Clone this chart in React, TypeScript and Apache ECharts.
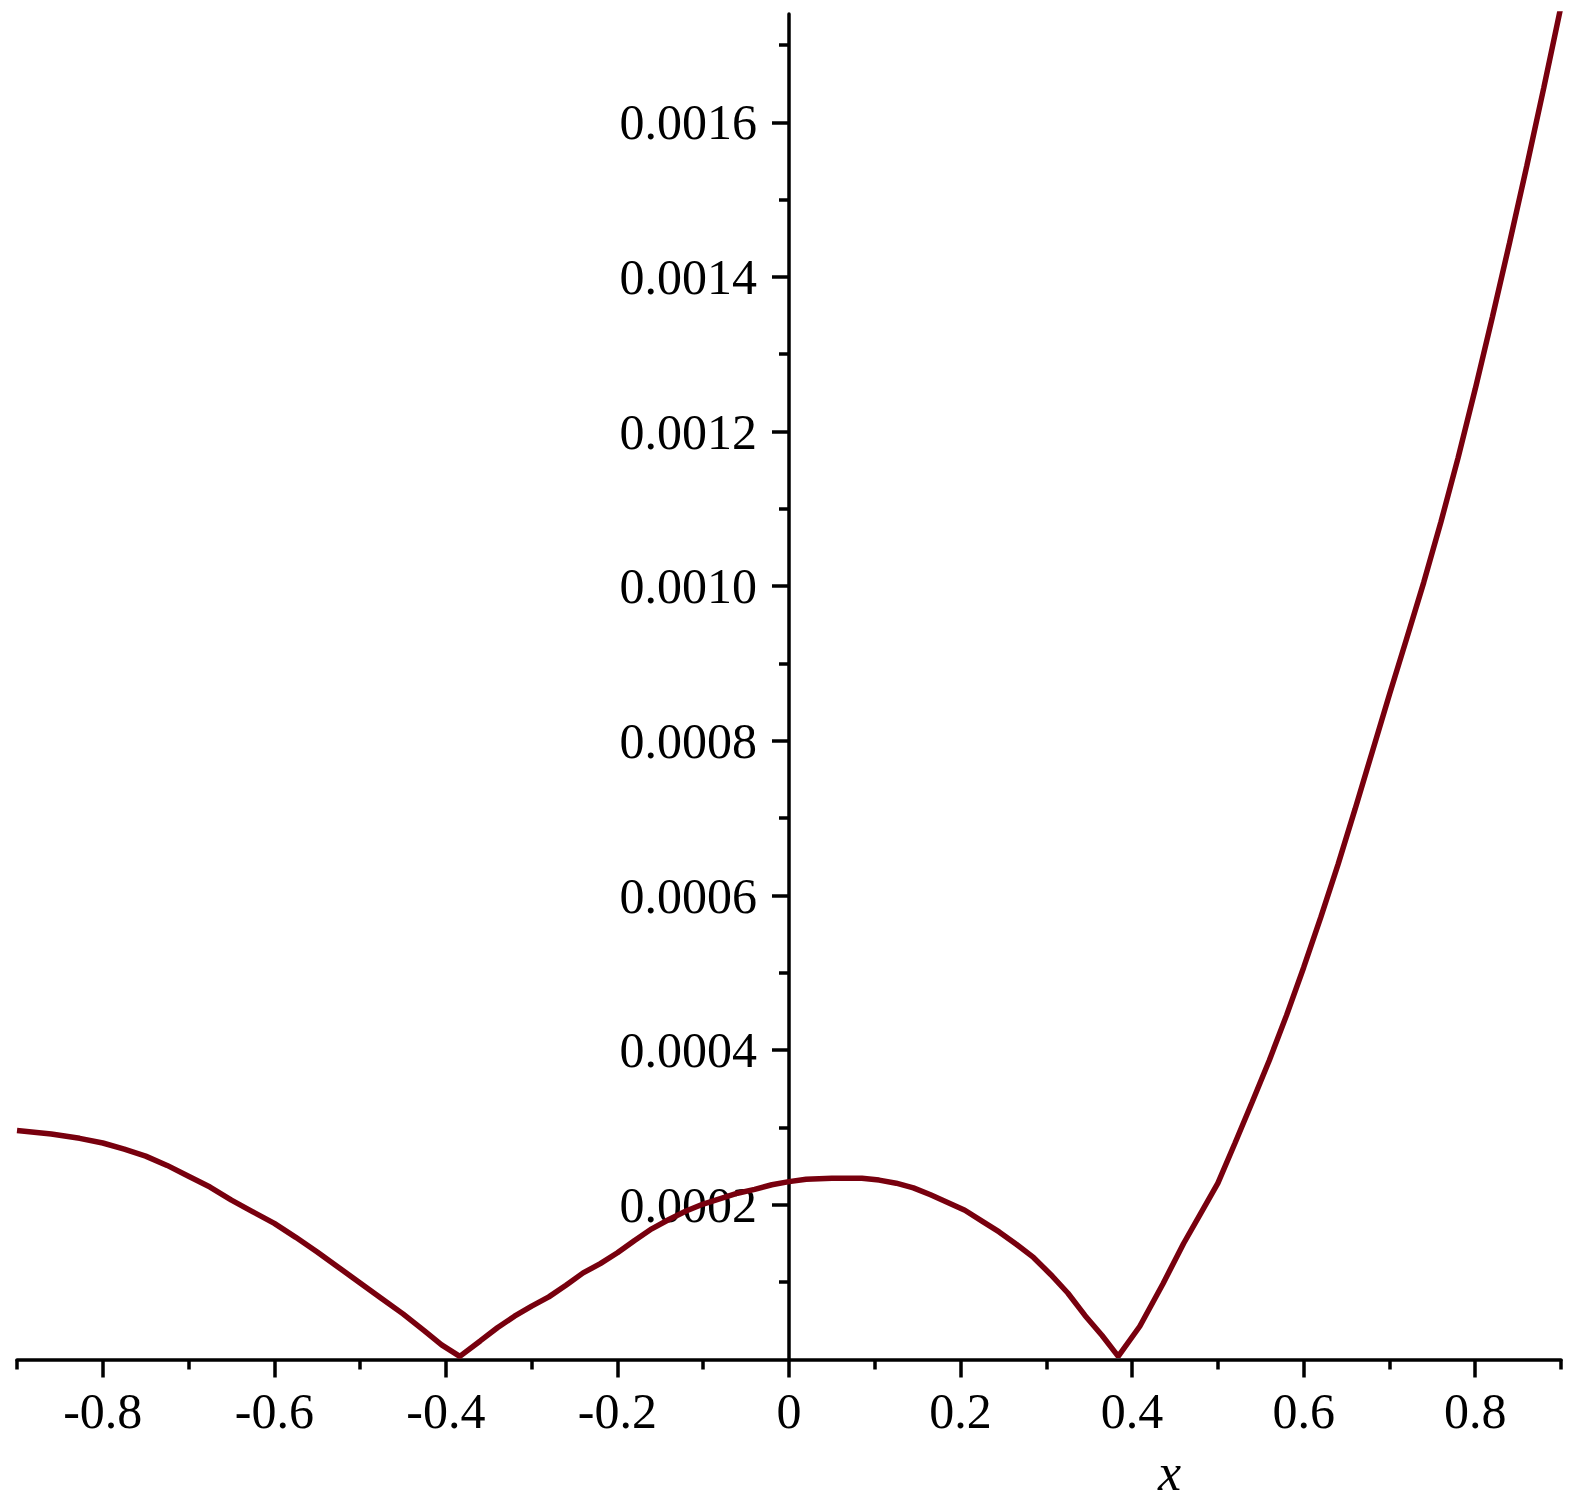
import React, { useEffect, useRef } from "react";
import * as echarts from "echarts";

// Curve samples
const xs = [
  -0.9, -0.86, -0.827, -0.8, -0.775, -0.75, -0.725, -0.7, -0.675, -0.65,
  -0.625, -0.6, -0.575, -0.55, -0.525, -0.5, -0.475, -0.45, -0.425, -0.405,
  -0.3838, -0.36, -0.34, -0.32, -0.3, -0.28, -0.26, -0.24, -0.22, -0.2,
  -0.18, -0.16, -0.14, -0.12, -0.1, -0.08, -0.06, -0.04, -0.02, 0,
  0.02, 0.05, 0.085, 0.105, 0.125, 0.145, 0.165, 0.185, 0.205, 0.225,
  0.245, 0.265, 0.285, 0.305, 0.325, 0.345, 0.365, 0.3838, 0.409, 0.436,
  0.46, 0.48, 0.5, 0.52, 0.54, 0.56, 0.58, 0.6, 0.62, 0.64,
  0.66, 0.68, 0.7, 0.72, 0.74, 0.76, 0.78, 0.8, 0.82, 0.84,
  0.86, 0.88, 0.9,
];
const ys = [
  0.000296, 0.0002915, 0.000286, 0.00028, 0.000272, 0.000263, 0.000251, 0.000237, 0.000223, 0.000206,
  0.000191, 0.000176, 0.000158, 0.000139, 0.000119, 0.000099, 0.000079, 0.000059, 0.000037, 0.000019,
  0.000004, 0.000024, 0.000041, 0.000056, 0.000069, 0.000081, 0.000096, 0.000112, 0.000124, 0.000138,
  0.000154, 0.000169, 0.000181, 0.000192, 0.000201, 0.000208, 0.000215, 0.00022, 0.000226, 0.00023,
  0.000233, 0.0002345, 0.0002345, 0.000232, 0.000228, 0.000222, 0.000213, 0.000203, 0.000193, 0.000179,
  0.000165, 0.000149, 0.000132, 0.00011, 0.000086, 0.000057, 0.000031, 0.000004, 0.000043, 0.000098,
  0.00015, 0.000189, 0.000228, 0.00028, 0.000333, 0.000387, 0.000445, 0.000507, 0.000572, 0.00064,
  0.000712, 0.000786, 0.00086, 0.000932, 0.001005, 0.001083, 0.001166, 0.001255, 0.001348, 0.001444,
  0.001543, 0.001645, 0.00175,
];

const xMajorTicks = [-0.8, -0.6, -0.4, -0.2, 0, 0.2, 0.4, 0.6, 0.8];
const xMinorTicks = [-0.9, -0.7, -0.5, -0.3, -0.1, 0.1, 0.3, 0.5, 0.7, 0.9];
const yMajorTicks = [0.0002, 0.0004, 0.0006, 0.0008, 0.001, 0.0012, 0.0014, 0.0016];
const yMinorTicks = [0.0001, 0.0003, 0.0005, 0.0007, 0.0009, 0.0011, 0.0013, 0.0015, 0.0017];

const X_MIN = -0.9;
const X_MAX = 0.9;
const Y_MIN = 0;
const Y_MAX = 0.00174;

const FONT = '"Liberation Serif", "Times New Roman", serif';
const CURVE = "#78000e";

const GRID_LEFT = 17;
const GRID_RIGHT = 14;
const WIDTH = 1575;

export default function App() {
  const ref = useRef<HTMLDivElement>(null);

  useEffect(() => {
    if (!ref.current) return;
    const chart = echarts.init(ref.current, null, { renderer: "svg" });
    const data = xs.map((x, i) => [x, ys[i]]);
    const axisLineStyle = { color: "#000", width: 3.5 };
    const tickStyle = { color: "#000", width: 3.5 };
    // place the vertical axis where x = 0 (moved inward from the grid's left edge)
    const plotWidth = WIDTH - GRID_LEFT - GRID_RIGHT;
    const yAxisOffset = -((0 - X_MIN) / (X_MAX - X_MIN)) * plotWidth;
    chart.setOption({
      animation: false,
      backgroundColor: "#fff",
      grid: {
        left: GRID_LEFT,
        right: GRID_RIGHT,
        top: 14,
        bottom: 147.5,
        containLabel: false,
        outerBoundsMode: "none",
      },
      xAxis: [
        {
          type: "value",
          min: X_MIN,
          max: X_MAX,
          position: "bottom",
          axisLine: { show: true, onZero: false, lineStyle: axisLineStyle },
          axisTick: { show: true, customValues: xMajorTicks, length: 18, lineStyle: tickStyle },
          axisLabel: {
            show: true,
            customValues: xMajorTicks,
            margin: 26,
            fontFamily: FONT,
            fontSize: 50,
            color: "#000",
            formatter: (v: number) => String(v),
          },
          splitLine: { show: false },
        },
        {
          type: "value",
          min: X_MIN,
          max: X_MAX,
          position: "bottom",
          axisLine: { show: false, onZero: false },
          axisTick: { show: true, customValues: xMinorTicks, length: 10, lineStyle: tickStyle },
          axisLabel: { show: false },
          splitLine: { show: false },
        },
      ],
      yAxis: [
        {
          type: "value",
          min: Y_MIN,
          max: Y_MAX,
          position: "left",
          offset: yAxisOffset,
          axisLine: { show: true, onZero: false, lineStyle: axisLineStyle },
          axisTick: { show: true, customValues: yMajorTicks, length: 17, lineStyle: tickStyle },
          axisLabel: {
            show: true,
            customValues: yMajorTicks,
            margin: 32,
            fontFamily: FONT,
            fontSize: 50,
            color: "#000",
            formatter: (v: number) => v.toFixed(4),
          },
          splitLine: { show: false },
        },
        {
          type: "value",
          min: Y_MIN,
          max: Y_MAX,
          position: "left",
          offset: yAxisOffset,
          axisLine: { show: false, onZero: false },
          axisTick: { show: true, customValues: yMinorTicks, length: 10, lineStyle: tickStyle },
          axisLabel: { show: false },
          splitLine: { show: false },
        },
      ],
      graphic: [
        {
          type: "text",
          left: 1158,
          top: 1446,
          style: {
            text: "x",
            font: `italic 52px ${FONT}`,
            fill: "#000",
          },
        },
      ],
      series: [
        {
          type: "line",
          xAxisIndex: 0,
          yAxisIndex: 0,
          data,
          showSymbol: false,
          symbol: "none",
          clip: true,
          lineStyle: { color: CURVE, width: 5.5 },
          z: 5,
        },
      ],
    });
    return () => chart.dispose();
  }, []);

  return (
    <div
      ref={ref}
      style={{ position: "absolute", left: 0, top: 0, width: WIDTH, height: 1507 }}
    />
  );
}
